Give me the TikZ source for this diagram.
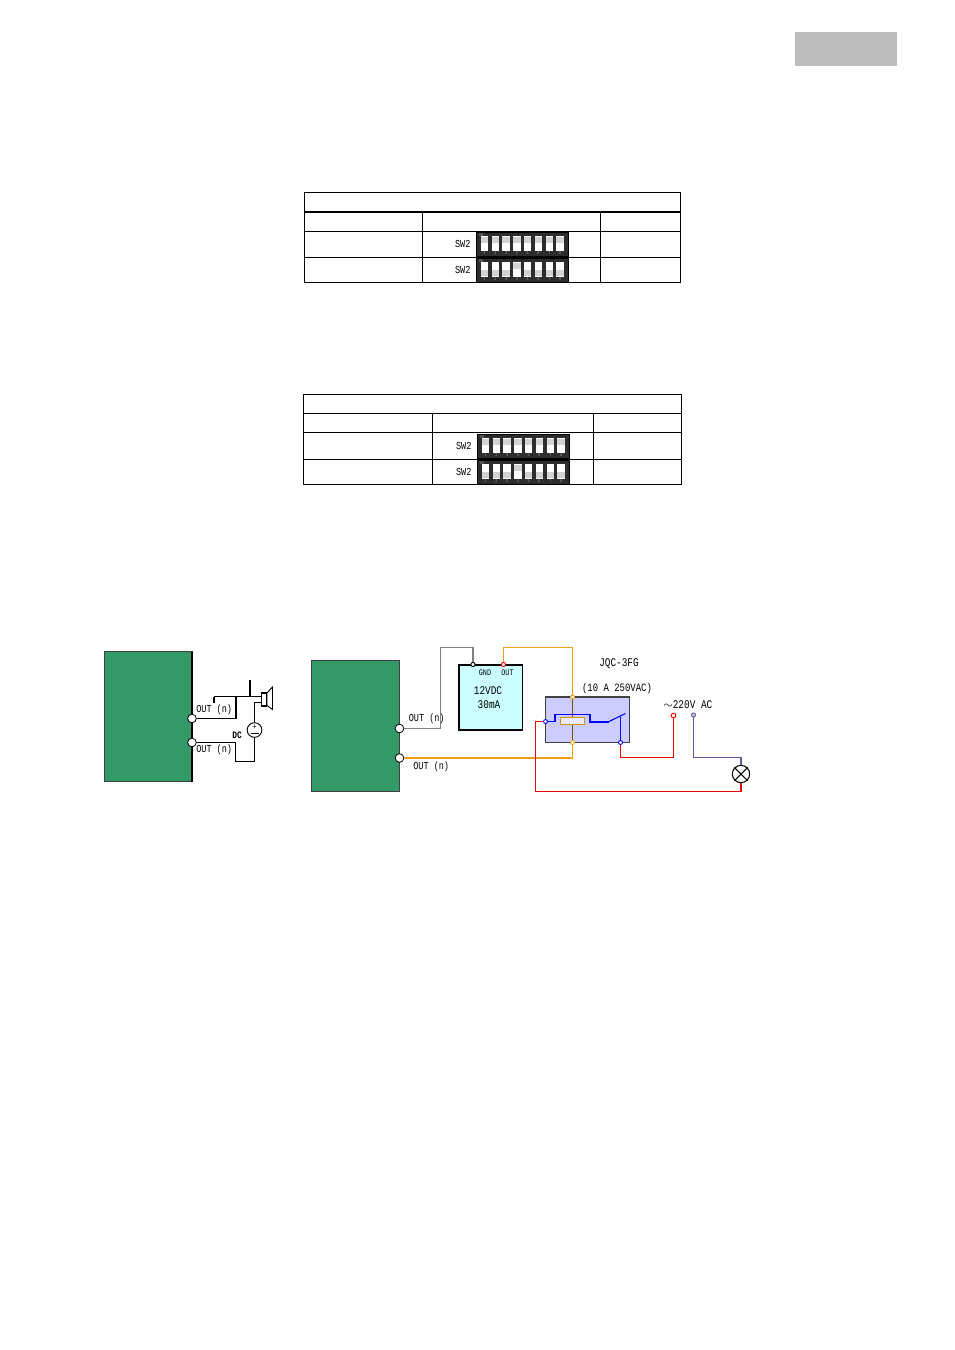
\documentclass[tikz,border=0pt]{standalone}
\usepackage{fontspec}
\setmainfont[FakeStretch=0.8]{Liberation Mono}
\usetikzlibrary{positioning}
\definecolor{boardgreen}{RGB}{51,153,102}
\definecolor{relayblue}{RGB}{204,204,255}
\definecolor{modulecyan}{RGB}{204,255,255}
\definecolor{wireorange}{RGB}{240,160,20}
\definecolor{wiregray}{RGB}{128,128,128}
\definecolor{wirepurple}{RGB}{90,90,160}
\definecolor{wirered}{RGB}{240,0,0}
\definecolor{coilgold}{RGB}{204,153,0}
\definecolor{dipdark}{RGB}{45,45,45}
\tikzset{
	cellbox/.style={draw,line width=0.75pt,anchor=north west,inner sep=0pt,outer sep=0pt},
	board/.style={draw=black!75,fill=boardgreen,line width=0.8pt,anchor=north west,inner sep=0pt,outer sep=0pt},
	portpin/.style={circle,draw,fill=white,line width=0.6pt,inner sep=0pt,minimum size=6.5pt},
	smallpin/.style={circle,draw,fill=white,line width=0.7pt,inner sep=0pt,minimum size=3.2pt},
	lbl/.style={inner sep=0pt,font=\fontsize{8}{9}\selectfont},
	biglbl/.style={inner sep=0pt,font=\fontsize{8.8}{10}\selectfont},
	tinylbl/.style={inner sep=0pt,font=\fontsize{6.4}{7}\selectfont},
	wire/.style={line width=0.8pt},
	dipbody/.style={fill=dipdark,draw=black,line width=0.3pt,anchor=north west,inner sep=0pt,outer sep=0pt,minimum width=69.5pt,minimum height=17.5pt},
	slot/.style={fill=white,inner sep=0pt,minimum width=5.5pt,minimum height=11.5pt},
	knob/.style={fill=gray!35,inner sep=0pt,minimum width=5.5pt,minimum height=4.5pt},
	diptext/.style={inner sep=0pt,text=gray!75,font=\fontsize{3.2}{4}\selectfont}
}
% #1 name, #2 x, #3 y, #4 knob offset list for the eight levers
\newcommand{\dipswitch}[4]{
	\node[dipbody] (#1) at (#2,#3) {};
	\node[lbl,left=4pt of #1] (#1lbl) {SW2};
	\node[diptext] (#1on) at (#2+5,#3+2.5) {ON};
	\foreach \i/\k in {#4} {
		\node[slot] (#1s\i) at (#2+8.5+10.8*\i-10.8,#3+11) {};
		\node[knob] (#1k\i) at (#2+8.5+10.8*\i-10.8,#3+11+\k) {};
		\node[diptext] (#1n\i) at (#2+8.5+10.8*\i-10.8,#3+20.5) {\i};
	}
}
\begin{document}
\begin{tikzpicture}[x=0.75pt,y=-0.75pt]
	\useasboundingbox (0,0) rectangle (954,1350);
	\node[fill=gray!52,anchor=north west,inner sep=0pt,outer sep=0pt,minimum width=76.5pt,minimum height=25.5pt] (pagetab) at (795,32) {};

	% first table
	\node[cellbox,minimum width=282pt,minimum height=14.6pt] (ta) at (304.5,192.5) {};
	\node[cellbox,minimum width=88.5pt,minimum height=14.6pt] (ta1) at (304.5,212) {};
	\node[cellbox,minimum width=133.5pt,minimum height=14.6pt] (ta2) at (422.5,212) {};
	\node[cellbox,minimum width=60pt,minimum height=14.6pt] (ta3) at (600.5,212) {};
	\node[cellbox,minimum width=88.5pt,minimum height=19.5pt] (tb1) at (304.5,231.5) {};
	\node[cellbox,minimum width=133.5pt,minimum height=19.5pt] (tb2) at (422.5,231.5) {};
	\node[cellbox,minimum width=60pt,minimum height=19.5pt] (tb3) at (600.5,231.5) {};
	\node[cellbox,minimum width=88.5pt,minimum height=18.75pt] (tc1) at (304.5,257.5) {};
	\node[cellbox,minimum width=133.5pt,minimum height=18.75pt] (tc2) at (422.5,257.5) {};
	\node[cellbox,minimum width=60pt,minimum height=18.75pt] (tc3) at (600.5,257.5) {};
	\dipswitch{swa}{476}{232.5}{1/-3.5,2/-3.5,3/-3.5,4/-3.5,5/-3.5,6/-3.5,7/-3.5,8/-3.5}
	\dipswitch{swb}{476}{258.5}{1/3.5,2/3.5,3/3.5,4/-3.5,5/3.5,6/3.5,7/3.5,8/3.5}

	% second table
	\node[cellbox,minimum width=283.5pt,minimum height=14.25pt] (ua) at (303.5,394.5) {};
	\node[cellbox,minimum width=96.75pt,minimum height=14.25pt] (ua1) at (303.5,413.5) {};
	\node[cellbox,minimum width=120.75pt,minimum height=14.25pt] (ua2) at (432.5,413.5) {};
	\node[cellbox,minimum width=66pt,minimum height=14.25pt] (ua3) at (593.5,413.5) {};
	\node[cellbox,minimum width=96.75pt,minimum height=20.25pt] (ub1) at (303.5,432.5) {};
	\node[cellbox,minimum width=120.75pt,minimum height=20.25pt] (ub2) at (432.5,432.5) {};
	\node[cellbox,minimum width=66pt,minimum height=20.25pt] (ub3) at (593.5,432.5) {};
	\node[cellbox,minimum width=96.75pt,minimum height=18.75pt] (uc1) at (303.5,459.5) {};
	\node[cellbox,minimum width=120.75pt,minimum height=18.75pt] (uc2) at (432.5,459.5) {};
	\node[cellbox,minimum width=66pt,minimum height=18.75pt] (uc3) at (593.5,459.5) {};
	\dipswitch{swc}{477}{434.5}{1/-3.5,2/-3.5,3/-3.5,4/-3.5,5/-3.5,6/-3.5,7/-3.5,8/-3.5}
	\dipswitch{swd}{477}{460.5}{1/3.5,2/3.5,3/3.5,4/-3.5,5/3.5,6/3.5,7/3.5,8/3.5}

	% left circuit
	\node[board,minimum width=65.6pt,minimum height=97.5pt] (boardl) at (104.5,651.5) {};
	\draw[line width=1.4pt] (boardl.north east) -- (boardl.south east);
	\node[portpin] (pl1) at (192,718.5) {};
	\node[portpin] (pl2) at (192,742.5) {};
	\coordinate (sj) at (236,696.5);
	\coordinate (sk) at (214,696.5);
	\coordinate (st) at (250,680);
	\coordinate (sb) at (250,696.5);
	\coordinate (sv) at (254.5,702.5);
	\draw[line width=0.7pt,fill=white] (267,693) -- (272.5,687) -- (272.5,709.5) -- (267,705.5) -- cycle;
	\node[draw,line width=1.1pt,fill=white,inner sep=0pt,minimum width=4pt,minimum height=10pt] (coneb) at (264,699.5) {};
	\draw[line width=1pt] (pl1) -| (sj) -- (coneb.west |- sj);
	\draw[wire] (sk) -- (sj);
	\draw[wire] (sk) -- ++(0,6);
	\draw[wire] (st) -- (sb);
	\node[circle,draw,fill=white,line width=0.7pt,inner sep=0pt,minimum size=11pt] (dcsrc) at (254.5,730) {};
	\node[inner sep=0pt,font=\fontsize{6}{6}\selectfont] (dcp) at (254.5,727) {+};
	\draw[line width=0.6pt] (250.5,733.5) -- (258.5,733.5);
	\draw[wire] (coneb.west |- sv) -- (sv) -- (dcsrc);
	\draw[wire] (pl2) -| (235.5,761.5) -| (dcsrc);
	\node[lbl,anchor=west] (outa) at (196,710) {OUT (n)};
	\node[lbl,anchor=west] (outb) at (196,750) {OUT (n)};
	\node[lbl,font=\fontsize{7.4}{8}\bfseries\selectfont] (dclbl) at (237,735) {DC};

	% right circuit
	\node[board,minimum width=66pt,minimum height=98.25pt] (boardr) at (311.5,660.5) {};
	\node[portpin] (pr1) at (399.5,728.5) {};
	\node[portpin] (pr2) at (399.5,758) {};
	\node[draw,fill=modulecyan,line width=1.4pt,anchor=north west,inner sep=0pt,outer sep=0pt,minimum width=47.6pt,minimum height=48.75pt] (module) at (459,665) {};
	\node[smallpin,draw=black] (pgnd) at (473,664.5) {};
	\node[smallpin,draw=red] (pout) at (503.5,664.5) {};
	\node[tinylbl] (gndlbl) at (485,673) {GND};
	\node[tinylbl] (outlbl) at (507.5,673) {OUT};
	\node[biglbl] (vlbl) at (488,691) {12VDC};
	\node[biglbl] (malbl) at (489,705) {30mA};
	\draw[wire,wiregray] (pr1) -| (440.5,647.5) -| (pgnd);
	\node[draw=black!75,fill=relayblue,line width=0.9pt,anchor=north west,inner sep=0pt,outer sep=0pt,minimum width=63pt,minimum height=34.1pt] (relay) at (545.5,697) {};
	\draw[line width=1.6pt,black!75] (relay.north west) -- (relay.north east);
	\node[smallpin,draw=wireorange,minimum size=3pt] (ct) at (572.5,697) {};
	\node[smallpin,draw=wireorange,minimum size=3pt] (cb) at (572.5,742.5) {};
	\draw[wire,wireorange] (pout) |- (512,647.5) -| (ct);
	\draw[wire,wireorange] (pr2) -| (cb);
	\draw[wire,coilgold!55!black] (ct) -- (cb);
	\node[draw=coilgold,fill=relayblue!40!white,line width=0.8pt,inner sep=0pt,minimum width=18pt,minimum height=5.5pt] (coil) at (572.5,721) {};
	\node[smallpin,draw=blue,minimum size=3pt] (rc) at (545.5,721.5) {};
	\node[smallpin,draw=blue,minimum size=3pt] (rn) at (620.5,742.5) {};
	\coordinate (arm) at (609,721.5);
	\coordinate (armtip) at (625.5,713.5);
	\draw[wire,blue] (rc) -- (555,721.5) -- (555,714.5) -- (590,714.5) -- (590,721.5);
	\draw[line width=1.5pt,blue] (590,714.5) -- (590,721.5) -- (arm);
	\draw[wire,blue] (arm) -- (armtip);
	\draw[wire,blue] (rn) -- (620.5,716.5);
	\node[smallpin,draw=red,minimum size=3.5pt] (acl) at (673.5,715.5) {};
	\node[smallpin,draw=wirepurple,fill=wirepurple!30,minimum size=3pt] (acn) at (693.5,715) {};
	\node[circle,draw,fill=white,line width=0.8pt,inner sep=0pt,minimum size=13pt] (lamp) at (741,774) {};
	\draw[line width=0.8pt] (lamp.north west) -- (lamp.south east) (lamp.north east) -- (lamp.south west);
	\draw[wire,wirered] (rn) |- (673.5,757.5) -- (acl);
	\draw[wire,wirepurple] (acn) |- (741,757.5) -- (lamp);
	\draw[wire,wirered] (rc) -| (535.5,791.5) -| (lamp);
	\node[lbl,anchor=west] (outc) at (408.5,719) {OUT (n)};
	\node[lbl,anchor=west] (outd) at (413,767) {OUT (n)};
	\node[biglbl] (relaylbl) at (619,663.5) {JQC-3FG};
	\node[lbl,font=\fontsize{8.4}{9}\selectfont] (ratelbl) at (617,689) {(10 A 250VAC)};
	\node[biglbl,anchor=west] (aclbl) at (663,705) {$\sim$220V AC};
\end{tikzpicture}
\end{document}
